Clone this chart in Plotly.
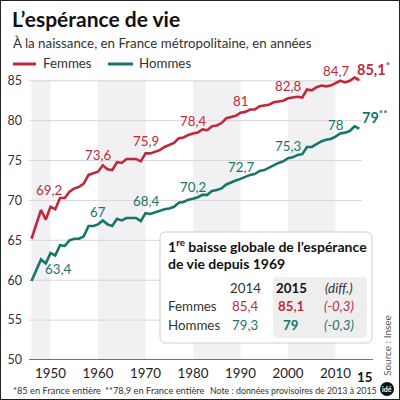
import plotly.graph_objects as go

# --- data ---
years = list(range(1946, 2016))
femmes = [65.2, 66.9, 68.8, 67.6, 69.2, 68.9, 70.3, 70.3, 71.1, 71.5,
          71.7, 72.1, 73.2, 73.4, 73.6, 74.4, 73.9, 73.8, 74.8, 74.7,
          75.2, 75.2, 75.2, 74.9, 75.9, 75.9, 76.1, 76.3, 76.7, 76.9,
          77.2, 77.8, 77.9, 78.2, 78.4, 78.5, 78.9, 78.8, 79.3, 79.4,
          79.7, 80.3, 80.5, 80.6, 81.0, 81.1, 81.4, 81.4, 81.8, 81.9,
          82.0, 82.3, 82.4, 82.5, 82.8, 82.9, 83.0, 82.9, 83.9, 83.8,
          84.2, 84.4, 84.3, 84.4, 84.7, 85.0, 84.8, 85.0, 85.4, 85.1]
hommes = [59.9, 61.3, 62.6, 62.1, 63.4, 63.1, 64.4, 64.3, 65.0, 65.2,
          65.2, 65.5, 66.8, 66.8, 67.0, 67.5, 67.0, 66.8, 67.7, 67.5,
          67.8, 67.8, 67.8, 67.4, 68.4, 68.3, 68.5, 68.7, 68.9, 69.0,
          69.2, 69.7, 69.8, 70.1, 70.2, 70.4, 70.7, 70.7, 71.2, 71.3,
          71.5, 72.0, 72.3, 72.5, 72.7, 72.9, 73.2, 73.3, 73.7, 73.8,
          74.1, 74.5, 74.7, 74.9, 75.3, 75.4, 75.7, 75.8, 76.7, 76.7,
          77.1, 77.4, 77.6, 77.7, 78.0, 78.4, 78.5, 78.7, 79.3, 79.0]
label_years = [1950, 1960, 1970, 1980, 1990, 2000, 2010]
band_starts = [1946, 1960, 1980, 2000]
band_ends = [1950, 1970, 1990, 2010]
y_ticks = [50, 55, 60, 65, 70, 75, 80, 85]
x_ticks = [1950, 1960, 1970, 1980, 1990, 2000, 2010]
last_tick = "15"

RED = "#c0293b"
TEAL = "#17756a"
FONT = "Lato"
W = H = 400


def px(x):
    return x / W


def py(y):
    return 1 - y / H


def fmt(v):
    s = f"{v:.1f}".replace(".", ",")
    return s[:-2] if s.endswith(",0") else s


x_range = [1945.47, 2017.89]
fig = go.Figure()
fig.add_trace(go.Scatter(x=years, y=femmes, mode="lines", line=dict(color=RED, width=2.6),
                         cliponaxis=False, hoverinfo="skip"))
fig.add_trace(go.Scatter(x=years, y=hommes, mode="lines", line=dict(color=TEAL, width=2.6),
                         cliponaxis=False, hoverinfo="skip"))

shapes = []
for a, b in zip(band_starts, band_ends):
    shapes.append(dict(type="rect", xref="x", yref="y", x0=max(a, x_range[0]), x1=b, y0=50, y1=85,
                       fillcolor="#f1f1f3", line=dict(width=0), layer="below"))
for t in y_ticks[1:]:
    shapes.append(dict(type="line", xref="x", yref="y", x0=x_range[0], x1=2015.6, y0=t, y1=t,
                       line=dict(color="#d6d6d6", width=1), layer="below"))
shapes.append(dict(type="line", xref="paper", yref="y", x0=px(29), x1=px(373), y0=50, y1=50,
                   line=dict(color="#444", width=1.5)))

# legend
shapes.append(dict(type="line", xref="paper", yref="paper", x0=px(13), x1=px(36), y0=py(64), y1=py(64),
                   line=dict(color=RED, width=3)))
shapes.append(dict(type="line", xref="paper", yref="paper", x0=px(108), x1=px(133), y0=py(64), y1=py(64),
                   line=dict(color=TEAL, width=3)))


def rrect(x0, y0, x1, y1, r):
    a0, a1 = px(x0), px(x1)
    b0, b1 = py(y0), py(y1)
    rx, ry = r / W, r / H
    return (f"M {a0+rx},{b0} L {a1-rx},{b0} Q {a1},{b0} {a1},{b0-ry} "
            f"L {a1},{b1+ry} Q {a1},{b1} {a1-rx},{b1} L {a0+rx},{b1} Q {a0},{b1} {a0},{b1+ry} "
            f"L {a0},{b0-ry} Q {a0},{b0} {a0+rx},{b0} Z")


shapes.append(dict(type="path", xref="paper", yref="paper", path=rrect(160, 232, 372, 343, 6),
                   fillcolor="white", line=dict(color="#cfcfcf", width=1), layer="above"))
shapes.append(dict(type="path", xref="paper", yref="paper", path=rrect(273, 277, 367, 338, 5),
                   fillcolor="#eeeeef", line=dict(width=0), layer="above"))
# logo + border
shapes.append(dict(type="circle", xref="paper", yref="paper", x0=px(380), x1=px(394), y0=py(396), y1=py(382),
                   fillcolor="#111", line=dict(width=0)))
shapes.append(dict(type="rect", xref="paper", yref="paper", x0=0, x1=1, y0=0, y1=1,
                   line=dict(color="#222", width=2)))

ann = []


def text(x, y, s, size=13, color="#333", anchor="left", **kw):
    ann.append(dict(xref="paper", yref="paper", x=px(x), y=py(y), text=s, showarrow=False,
                    xanchor=anchor, yanchor="middle", font=dict(family=FONT, size=size, color=color), **kw))


text(10, 19, "<b>L’espérance de vie</b>", size=21, color="#111")
text(11, 43, "À la naissance, en France métropolitaine, en années", size=13.3, color="#333")
text(41, 63, "Femmes", size=13.3)
text(137, 63, "Hommes", size=13.3)

# value labels on the lines
for yr in label_years:
    i = years.index(yr)
    f_shift = 17 if yr in (1950, 1960) else 12
    ann.append(dict(x=yr, y=femmes[i], text=fmt(femmes[i]), showarrow=False, yshift=f_shift,
                    xshift=-2 if yr == 1950 else 0,
                    font=dict(family=FONT, size=13.3, color=RED)))
    if yr == 1950:
        ann.append(dict(x=yr, y=hommes[i], text=fmt(hommes[i]), showarrow=False, yshift=-16, xshift=7,
                        font=dict(family=FONT, size=13.3, color=TEAL)))
    else:
        ann.append(dict(x=yr, y=hommes[i], text=fmt(hommes[i]), showarrow=False, yshift=12,
                        font=dict(family=FONT, size=13.3, color=TEAL)))
ann.append(dict(x=years[-1], y=femmes[-1], text="<b>" + fmt(femmes[-1]) + "<sup>*</sup></b>",
                showarrow=False, yshift=11, xshift=14, font=dict(family=FONT, size=14.5, color=RED)))
ann.append(dict(x=years[-1], y=hommes[-1], text="<b>" + fmt(hommes[-1]) + "<sup>**</sup></b>",
                showarrow=False, yshift=12, xshift=15, font=dict(family=FONT, size=14.5, color=TEAL)))
# short label for the last year on the x axis
ann.append(dict(x=years[-1], y=50, yref="y", text="<b>" + last_tick + "</b>", showarrow=False,
                xshift=5, yshift=-17, font=dict(family=FONT, size=13.3, color="#111")))

# table
text(166, 245, "<b>1<sup>re</sup> baisse globale de l’espérance</b>", size=14, color="#111")
text(166, 263, "<b>de vie depuis 1969</b>", size=14, color="#111")
text(245, 288, str(years[-2]), size=13.3, anchor="center")
text(291, 288, "<b>" + str(years[-1]) + "</b>", size=13.3, color="#111", anchor="center")
text(339, 288, "<i>(diff.)</i>", size=13.3, anchor="center")
for row, (name, serie, col) in enumerate([("Femmes", femmes, RED), ("Hommes", hommes, TEAL)]):
    yy = 306 + row * 19
    text(166, yy, name, size=13.3)
    text(245, yy, fmt(serie[-2]), size=13.3, color=col, anchor="center")
    text(291, yy, "<b>" + fmt(serie[-1]) + "</b>", size=13.3, color=col, anchor="center")
    text(339, yy, "<i>(" + fmt(round(serie[-1] - serie[-2], 1)) + ")</i>", size=13.3, color=col,
         anchor="center")

text(387, 346, "Source : Insee", size=10, color="#555", anchor="center", textangle=-90)
text(11, 390, "*85 en France entière", size=9.3)
text(103, 390, "**78,9 en France entière", size=9.3)
text(208, 390, "Note : données provisoires de 2013 à 2015", size=8.8)
text(387, 389, "<b>idé</b>", size=7, color="white", anchor="center")

fig.update_layout(
    width=W, height=H, margin=dict(l=0, r=0, t=0, b=0),
    paper_bgcolor="white", plot_bgcolor="white", showlegend=False,
    shapes=shapes, annotations=ann,
    xaxis=dict(domain=[px(29), px(373)], range=x_range, showgrid=False, zeroline=False,
               tickvals=x_ticks, ticks="", showline=False, tickangle=0, ticklabelstandoff=4,
               tickfont=dict(family=FONT, size=13.3, color="#222"), automargin=False),
    yaxis=dict(domain=[0.1, 0.828], range=[50, 86.5], showgrid=False, zeroline=False,
               tickvals=y_ticks, ticks="", showline=False, ticklabelstandoff=6,
               tickfont=dict(family=FONT, size=12.5, color="#333"), automargin=False),
)

fig.write_html("out.html", config={"displayModeBar": False},
               post_script="document.body.style.margin='0';")
